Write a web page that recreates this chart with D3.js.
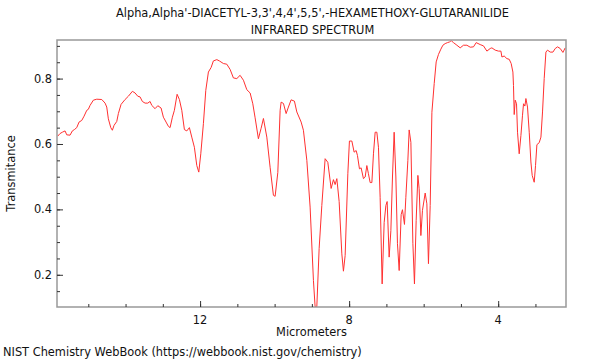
<!DOCTYPE html>
<html><head><meta charset="utf-8">
<script src="https://cdn.jsdelivr.net/npm/d3@7"></script>
<style>body{margin:0;background:#fff}svg{display:block;font-family:"DejaVu Sans",sans-serif}</style>
</head><body><svg id="c" width="600" height="360"></svg>
<script>
const titleLines = ["Alpha,Alpha'-DIACETYL-3,3',4,4',5,5',-HEXAMETHOXY-GLUTARANILIDE", "INFRARED SPECTRUM"];
const xLabel = "Micrometers";
const yLabel = "Transmitance";
const footer = "NIST Chemistry WebBook (https://webbook.nist.gov/chemistry)";
const xMajorTicks = [12, 8, 4];
const xMinorTicks = [15,14,13,12,11,10,9,8,7,6,5,4,3];
const yMajorTicks = [0.2, 0.4, 0.6, 0.8];
const yMinorTicks = [0.15,0.2,0.25,0.3,0.35,0.4,0.45,0.5,0.55,0.6,0.65,0.7,0.75,0.8,0.85,0.9];
const xDomain = [15.84, 2.18];
const yDomain = [0.1015, 0.918];

const micrometers = [15.820,15.758,15.696,15.624,15.578,15.490,15.428,15.374,15.310,15.248,15.176,15.114,15.041,14.999,14.953,14.864,14.773,14.639,14.550,14.505,14.462,14.397,14.354,14.309,14.236,14.193,14.121,14.013,13.925,13.817,13.745,13.672,13.611,13.549,13.476,13.404,13.342,13.296,13.208,13.135,13.047,12.985,12.913,12.851,12.805,12.743,12.690,12.617,12.555,12.491,12.421,12.357,12.287,12.223,12.153,12.088,12.035,11.981,11.911,11.847,11.777,11.704,11.643,11.551,11.482,11.374,11.283,11.194,11.106,11.015,10.926,10.837,10.746,10.657,10.585,10.523,10.435,10.362,10.300,10.209,10.121,10.032,9.986,9.914,9.852,9.825,9.763,9.691,9.629,9.557,9.468,9.404,9.288,9.227,9.135,9.047,8.958,8.913,8.867,8.805,8.733,8.644,8.572,8.483,8.421,8.376,8.330,8.268,8.196,8.153,8.107,8.035,7.992,7.927,7.866,7.812,7.777,7.723,7.678,7.616,7.570,7.525,7.482,7.436,7.390,7.347,7.302,7.256,7.213,7.168,7.114,7.060,7.014,6.980,6.926,6.880,6.837,6.792,6.746,6.703,6.657,6.604,6.569,6.515,6.478,6.424,6.389,6.343,6.289,6.247,6.201,6.155,6.121,6.075,6.032,5.959,5.914,5.871,5.825,5.779,5.717,5.664,5.602,5.538,5.484,5.423,5.361,5.307,5.261,5.200,5.108,5.020,4.931,4.840,4.751,4.663,4.590,4.483,4.394,4.303,4.214,4.169,4.080,3.991,3.927,3.900,3.839,3.766,3.704,3.651,3.605,3.589,3.570,3.543,3.508,3.481,3.436,3.390,3.347,3.320,3.283,3.256,3.213,3.167,3.122,3.087,3.033,2.998,2.961,2.899,2.853,2.810,2.765,2.719,2.676,2.604,2.531,2.469,2.407,2.335,2.263,2.201];
const transmittance = [0.624,0.632,0.636,0.640,0.628,0.627,0.640,0.644,0.650,0.667,0.672,0.685,0.703,0.706,0.718,0.734,0.737,0.736,0.725,0.713,0.677,0.650,0.642,0.657,0.669,0.693,0.721,0.736,0.746,0.761,0.756,0.746,0.744,0.730,0.725,0.725,0.730,0.718,0.708,0.717,0.710,0.682,0.667,0.654,0.650,0.682,0.703,0.752,0.736,0.703,0.644,0.640,0.650,0.621,0.590,0.534,0.514,0.570,0.662,0.764,0.820,0.834,0.854,0.858,0.854,0.846,0.844,0.828,0.802,0.800,0.810,0.795,0.766,0.756,0.723,0.680,0.616,0.648,0.678,0.621,0.529,0.443,0.440,0.513,0.703,0.728,0.724,0.693,0.713,0.735,0.731,0.698,0.667,0.642,0.550,0.407,0.182,0.102,0.102,0.280,0.412,0.555,0.544,0.464,0.491,0.476,0.494,0.424,0.264,0.211,0.259,0.509,0.609,0.609,0.575,0.580,0.565,0.524,0.527,0.494,0.499,0.534,0.509,0.482,0.482,0.570,0.636,0.636,0.590,0.437,0.172,0.360,0.412,0.424,0.254,0.335,0.499,0.636,0.499,0.295,0.213,0.384,0.399,0.354,0.437,0.550,0.643,0.605,0.295,0.172,0.366,0.504,0.463,0.320,0.397,0.450,0.417,0.234,0.412,0.697,0.785,0.851,0.874,0.890,0.902,0.907,0.910,0.912,0.916,0.910,0.902,0.894,0.902,0.902,0.896,0.897,0.910,0.904,0.900,0.884,0.892,0.894,0.887,0.884,0.884,0.866,0.869,0.861,0.859,0.846,0.820,0.779,0.690,0.734,0.723,0.636,0.570,0.626,0.688,0.723,0.716,0.739,0.713,0.636,0.545,0.504,0.483,0.534,0.598,0.604,0.621,0.698,0.800,0.881,0.887,0.881,0.881,0.892,0.897,0.892,0.880,0.894];

const L = 57, R = 566, T = 40, B = 307;
const FS = 11.4;
const svg = d3.select("#c");
const x = d3.scaleLinear().domain(xDomain).range([L, R]);
const y = d3.scaleLinear().domain(yDomain).range([B, T]);

svg.append("defs").append("clipPath").attr("id","clip")
  .append("rect").attr("x",L).attr("y",T).attr("width",R-L).attr("height",B-T);

const data = micrometers.map((m,i)=>({m, t: transmittance[i]}));
svg.append("path").datum(data)
  .attr("clip-path","url(#clip)")
  .attr("fill","none").attr("stroke","#ff3030").attr("stroke-width",1)
  .attr("d", d3.line().x(d=>x(d.m)).y(d=>y(d.t)));

// frame
svg.append("rect").attr("x",L).attr("y",T).attr("width",R-L).attr("height",B-T)
  .attr("fill","none").attr("stroke","#999").attr("stroke-width",1.5);

// y axis ticks (inward)
const gy = svg.append("g").attr("transform",`translate(${L},0)`);
gy.call(d3.axisRight(y).tickValues(yMinorTicks).tickSize(3).tickFormat(""));
gy.append("g").call(d3.axisRight(y).tickValues(yMajorTicks).tickSize(6).tickFormat(""));
gy.selectAll(".domain").remove();
gy.selectAll("line").attr("stroke","#333");
svg.append("g").selectAll("text").data(yMajorTicks).join("text")
  .attr("x", L-5).attr("y", d=>y(d)).attr("dy","0.35em").attr("text-anchor","end")
  .attr("font-size",FS).attr("fill","#111").text(d=>d3.format(".1f")(d));

// x axis ticks (inward)
const gx = svg.append("g").attr("transform",`translate(0,${B})`);
gx.call(d3.axisTop(x).tickValues(xMinorTicks).tickSize(3).tickFormat(""));
gx.append("g").call(d3.axisTop(x).tickValues(xMajorTicks).tickSize(6).tickFormat(""));
gx.selectAll(".domain").remove();
gx.selectAll("line").attr("stroke","#333");
svg.append("g").selectAll("text").data(xMajorTicks).join("text")
  .attr("x", d=>x(d)).attr("y", B+17).attr("text-anchor","middle")
  .attr("font-size",FS).attr("fill","#111").text(d=>d);

// labels
svg.append("text").attr("x",(L+R)/2).attr("y",336).attr("text-anchor","middle")
  .attr("font-size",FS).attr("fill","#111").text(xLabel);
svg.append("text").attr("transform",`translate(15,${(T+B)/2}) rotate(-90)`)
  .attr("text-anchor","middle").attr("font-size",FS).attr("fill","#111").text(yLabel);
svg.selectAll(".title").data(titleLines).join("text").attr("class","title")
  .attr("x",(L+R)/2+1).attr("y",(d,i)=>17+i*17).attr("text-anchor","middle")
  .attr("font-size",FS).attr("fill","#111").text(d=>d);
svg.append("text").attr("x",3).attr("y",356).attr("font-size",FS).attr("fill","#111").text(footer);
</script></body></html>
